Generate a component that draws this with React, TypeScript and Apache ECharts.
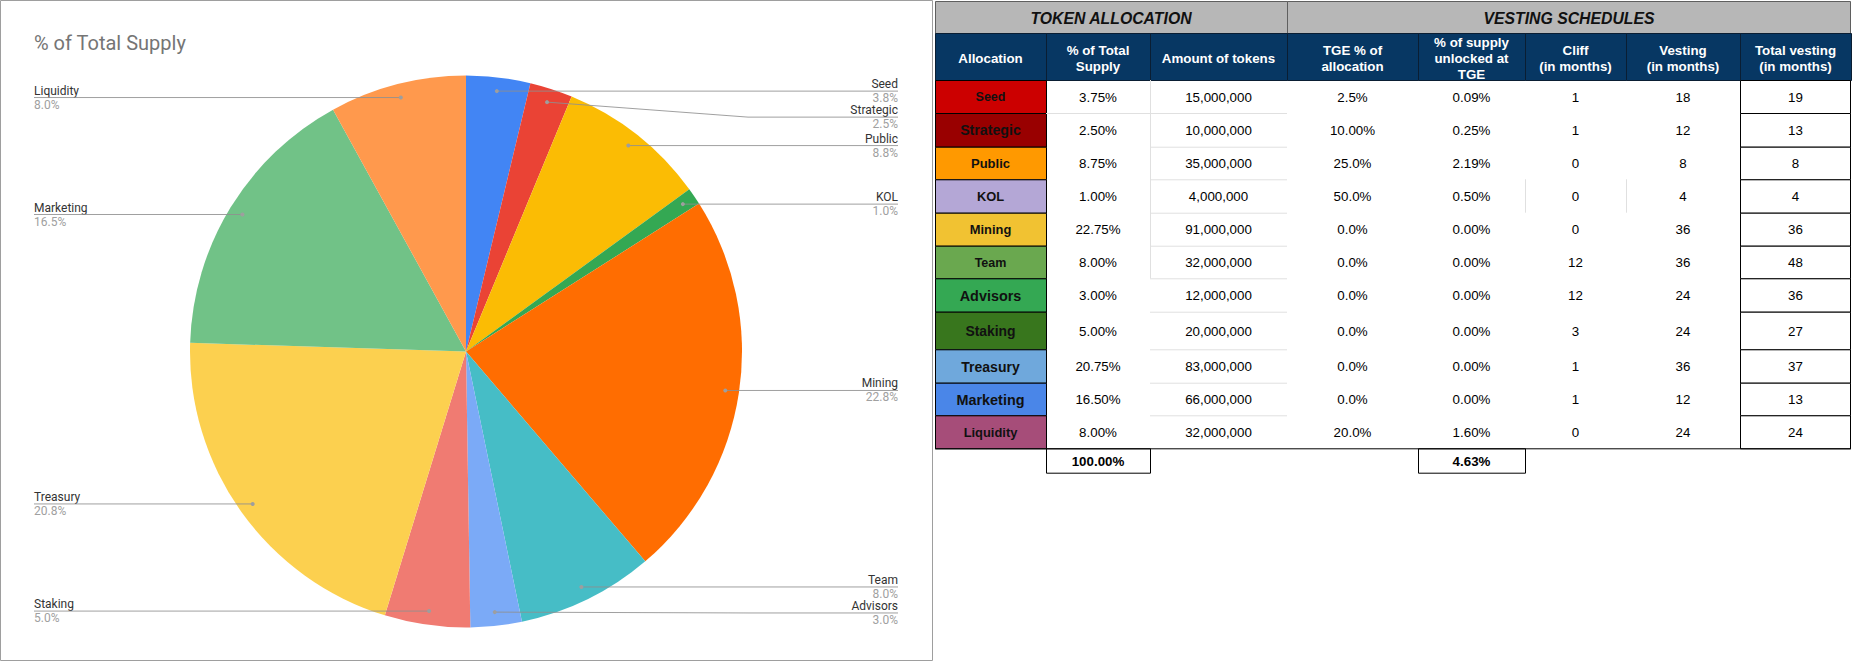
import React, { useEffect, useRef } from 'react';
import * as echarts from 'echarts';

// ---------- DATA ----------
const categories = ['Seed', 'Strategic', 'Public', 'KOL', 'Mining', 'Team', 'Advisors', 'Staking', 'Treasury', 'Marketing', 'Liquidity'];
const supplyPct = [3.75, 2.5, 8.75, 1, 22.75, 8, 3, 5, 20.75, 16.5, 8];
const tokenAmounts = [15000000, 10000000, 35000000, 4000000, 91000000, 32000000, 12000000, 20000000, 83000000, 66000000, 32000000];
const tgePctOfAllocation = ['2.5%', '10.00%', '25.0%', '50.0%', '0.0%', '0.0%', '0.0%', '0.0%', '0.0%', '0.0%', '20.0%'];
const supplyUnlockedAtTge = ['0.09%', '0.25%', '2.19%', '0.50%', '0.00%', '0.00%', '0.00%', '0.00%', '0.00%', '0.00%', '1.60%'];
const cliffMonths = [1, 1, 0, 0, 0, 12, 12, 3, 1, 1, 0];
const vestingMonths = [18, 12, 8, 4, 36, 36, 24, 24, 36, 12, 24];
const totalVestingMonths = [19, 13, 8, 4, 36, 48, 36, 27, 37, 13, 24];
const totalSupplyLabel = '100.00%';
const totalUnlockedLabel = '4.63%';
const chartTitle = '% of Total Supply';
const groupHeaders = ['TOKEN ALLOCATION', 'VESTING SCHEDULES'];
const columnHeaders = [
  'Allocation',
  '% of Total\nSupply',
  'Amount of tokens',
  'TGE % of\nallocation',
  '% of supply\nunlocked at\nTGE',
  'Cliff\n(in months)',
  'Vesting\n(in months)',
  'Total vesting\n(in months)',
];

// ---------- STYLES / LAYOUT ----------
const pieColors = ['#4285f4', '#ea4335', '#fbbc04', '#34a853', '#ff6d01', '#46bdc6', '#7baaf7', '#f07b72', '#fcd04f', '#71c287', '#ff994d'];
const allocColors = ['#cc0000', '#990000', '#ff9900', '#b4a7d6', '#f1c232', '#6aa84f', '#34a853', '#38761d', '#6fa8dc', '#4a86e8', '#a64d79'];
const allocFontSizes = [12.5, 14.2, 13, 12.9, 12.9, 12.5, 14.4, 13.9, 14, 14.4, 12.9];

const PIE_CX = 466;
const PIE_CY = 351.5;
const PIE_R = 276;
const ANCHOR_RATIO = 0.95;
const LABEL_RIGHT_X = 898;
const LABEL_LEFT_X = 34;
const LABEL_GAP = 26;
const BEND_OFFSET = 6;

const TABLE_COLS = [935, 1046, 1150, 1287, 1418, 1525, 1626, 1740, 1851];
const HEADER1_TOP = 1;
const HEADER2_TOP = 33;
const BODY_TOP = 80;
const ROW_HEIGHTS = [33, 33.7, 32.6, 33.4, 33, 32.6, 33.4, 37.6, 33.4, 32.6, 33];
const FOOTER_H = 24.4;
const TABLE_FONT = '"Liberation Sans", Arial, sans-serif';
const CHART_FONT = 'Roboto, "Noto Sans", sans-serif';

function formatShare(v: number, sum: number) {
  const share = (v / sum) * 100;
  return (Math.round(share * 10 + 1e-9) / 10).toFixed(1) + '%';
}

function computeLabelGeometry() {
  const sum = supplyPct.reduce((a, b) => a + b, 0);
  let acc = 0;
  const items = supplyPct.map((v, i) => {
    const mid = ((acc + v / 2) / sum) * Math.PI * 2;
    acc += v;
    const ax = PIE_CX + PIE_R * ANCHOR_RATIO * Math.sin(mid);
    const ay = PIE_CY - PIE_R * ANCHOR_RATIO * Math.cos(mid);
    return { i, ax, ay, right: Math.sin(mid) >= 0, ly: ay };
  });
  [true, false].forEach((side) => {
    const list = items.filter((d) => d.right === side).sort((a, b) => a.ay - b.ay);
    for (let k = 1; k < list.length; k++) {
      if (list[k].ly < list[k - 1].ly + LABEL_GAP) list[k].ly = list[k - 1].ly + LABEL_GAP;
    }
  });
  return items;
}

function buildTableGraphics() {
  const els: any[] = [];
  const rect = (x: number, y: number, w: number, h: number, fill: string, stroke?: string) => ({
    type: 'rect',
    silent: true,
    z: 5,
    shape: { x, y, width: w, height: h },
    style: { fill, stroke: stroke || null, lineWidth: stroke ? 1 : 0 },
  });
  const line = (x1: number, y1: number, x2: number, y2: number, stroke: string) => ({
    type: 'line',
    silent: true,
    z: 6,
    shape: { x1, y1, x2, y2 },
    style: { stroke, lineWidth: 1 },
  });
  const text = (x: number, y: number, t: string, extra: any = {}) => ({
    type: 'text',
    silent: true,
    z: 10,
    x,
    y,
    style: {
      text: t,
      fill: '#000',
      fontSize: 13.33,
      fontFamily: TABLE_FONT,
      fontWeight: 'normal',
      align: 'center',
      verticalAlign: 'middle',
      ...extra,
    },
  });

  const c = TABLE_COLS;
  // group header row
  els.push(rect(c[0] + 0.5, HEADER1_TOP + 0.5, c[3] - c[0], HEADER2_TOP - HEADER1_TOP, '#b7b7b7', '#5f5f5f'));
  els.push(rect(c[3] + 0.5, HEADER1_TOP + 0.5, c[8] - c[3] - 1, HEADER2_TOP - HEADER1_TOP, '#b7b7b7', '#5f5f5f'));
  els.push(text((c[0] + c[3]) / 2, (HEADER1_TOP + HEADER2_TOP) / 2 + 1, groupHeaders[0], { fontWeight: 'bold', fontStyle: 'italic', fontSize: 15.8, fill: '#111' }));
  els.push(text((c[3] + c[8]) / 2, (HEADER1_TOP + HEADER2_TOP) / 2 + 1, groupHeaders[1], { fontWeight: 'bold', fontStyle: 'italic', fontSize: 15.8, fill: '#111' }));

  // column header row
  for (let k = 0; k < 8; k++) {
    els.push(rect(c[k] + 0.5, HEADER2_TOP + 0.5, c[k + 1] - c[k], BODY_TOP - HEADER2_TOP, '#073763', '#0a1e33'));
    els.push(text((c[k] + c[k + 1]) / 2, (HEADER2_TOP + BODY_TOP) / 2 + 1.5, columnHeaders[k], { fill: '#ffffff', fontWeight: 'bold', lineHeight: 16 }));
  }

  // body rows
  const rowTops: number[] = [];
  let y = BODY_TOP;
  ROW_HEIGHTS.forEach((h) => {
    rowTops.push(y);
    y += h;
  });
  const bodyBottom = y;

  // light grid lines
  for (let r = 1; r < rowTops.length; r++) {
    els.push(line(r === 1 ? c[1] : c[2], rowTops[r] + 0.5, c[3], rowTops[r] + 0.5, '#e0e0e0'));
  }
  els.push(line(c[2] + 0.5, BODY_TOP, c[2] + 0.5, rowTops[6], '#e0e0e0'));
  els.push(line(c[5] + 0.5, rowTops[3], c[5] + 0.5, rowTops[4], '#e0e0e0'));
  els.push(line(c[6] + 0.5, rowTops[3], c[6] + 0.5, rowTops[4], '#e0e0e0'));

  categories.forEach((name, i) => {
    const top = rowTops[i];
    const h = ROW_HEIGHTS[i];
    const cy = top + h / 2 + 0.5;
    els.push(rect(c[0] + 0.5, top + 0.5, c[1] - c[0], h, allocColors[i], '#000'));
    els.push(text((c[0] + c[1]) / 2, cy, name, { fontWeight: 'bold', fontSize: allocFontSizes[i], fill: '#111' }));
    els.push(rect(c[7] + 0.5, top + 0.5, c[8] - c[7] - 1, h, '#ffffff', '#000'));
    const cells = [
      supplyPct[i].toFixed(2) + '%',
      tokenAmounts[i].toLocaleString('en-US'),
      tgePctOfAllocation[i],
      supplyUnlockedAtTge[i],
      String(cliffMonths[i]),
      String(vestingMonths[i]),
      String(totalVestingMonths[i]),
    ];
    cells.forEach((t, k) => {
      els.push(text((c[k + 1] + c[k + 2]) / 2, cy, t));
    });
  });
  els.push(line(c[0], bodyBottom + 0.5, c[8], bodyBottom + 0.5, '#000'));

  // footer
  els.push(rect(c[1] + 0.5, bodyBottom + 0.5, c[2] - c[1], FOOTER_H, '#ffffff', '#000'));
  els.push(text((c[1] + c[2]) / 2, bodyBottom + FOOTER_H / 2 + 1, totalSupplyLabel, { fontWeight: 'bold' }));
  els.push(rect(c[4] + 0.5, bodyBottom + 0.5, c[5] - c[4], FOOTER_H, '#ffffff', '#000'));
  els.push(text((c[4] + c[5]) / 2, bodyBottom + FOOTER_H / 2 + 1, totalUnlockedLabel, { fontWeight: 'bold' }));
  return els;
}

export default function App() {
  const ref = useRef<HTMLDivElement>(null);

  useEffect(() => {
    if (!ref.current) return;
    const chart = echarts.init(ref.current, undefined, { renderer: 'svg' });
    const sum = supplyPct.reduce((a, b) => a + b, 0);
    const geo = computeLabelGeometry();

    // leader lines + anchor dots, derived from the slice geometry above
    const leaders: any[] = [];
    geo.forEach((g) => {
      const bendX = g.right ? PIE_CX + PIE_R + BEND_OFFSET : PIE_CX - PIE_R - BEND_OFFSET;
      const endX = g.right ? LABEL_RIGHT_X : LABEL_LEFT_X;
      leaders.push({
        type: 'polyline',
        silent: true,
        z: 100,
        shape: { points: [[g.ax, g.ay], [bendX, g.ly], [endX, g.ly]] },
        style: { stroke: '#8f8f8f', lineWidth: 1, fill: null, opacity: 0.85 },
      });
      leaders.push({
        type: 'circle',
        silent: true,
        z: 101,
        shape: { cx: g.ax, cy: g.ay, r: 2 },
        style: { fill: '#9e9e9e' },
      });
    });

    const option: any = {
      animation: false,
      title: {
        text: chartTitle,
        left: 34,
        top: 33,
        padding: 0,
        textStyle: { fontFamily: CHART_FONT, fontSize: 20, fontWeight: 'normal', color: '#757575' },
      },
      graphic: [
        {
          type: 'rect',
          silent: true,
          z: 0,
          shape: { x: 0.5, y: 0.5, width: 932, height: 660 },
          style: { fill: 'none', stroke: '#9e9e9e', lineWidth: 1 },
        },
        ...leaders,
        ...buildTableGraphics(),
      ],
      series: [
        {
          type: 'pie',
          center: [PIE_CX, PIE_CY],
          radius: PIE_R,
          startAngle: 90,
          clockwise: true,
          avoidLabelOverlap: false,
          silent: true,
          itemStyle: { borderWidth: 0 },
          data: categories.map((name, i) => ({ name, value: supplyPct[i], itemStyle: { color: pieColors[i] } })),
          label: {
            show: true,
            position: 'outside',
            edgeDistance: 0,
            bleedMargin: 0,
            formatter: (p: any) => `{n|${p.name}}\n{v|${formatShare(p.value, sum)}}`,
            rich: {
              n: { fontFamily: CHART_FONT, fontSize: 12, color: '#333333', lineHeight: 14 },
              v: { fontFamily: CHART_FONT, fontSize: 12, color: '#a0a0a0', lineHeight: 14 },
            },
          },
          labelLine: { show: false },
          labelLayout: (params: any) => {
            const g = geo[params.dataIndex];
            if (!g) return {};
            return {
              x: g.right ? LABEL_RIGHT_X : LABEL_LEFT_X,
              y: g.ly,
              align: g.right ? 'right' : 'left',
              verticalAlign: 'middle',
            };
          },
        },
      ],
    };
    chart.setOption(option);
    return () => {
      chart.dispose();
    };
  }, []);

  return (
    <div
      ref={ref}
      style={{ position: 'fixed', left: 0, top: 0, width: '1853px', height: '663px', background: '#ffffff' }}
    />
  );
}
